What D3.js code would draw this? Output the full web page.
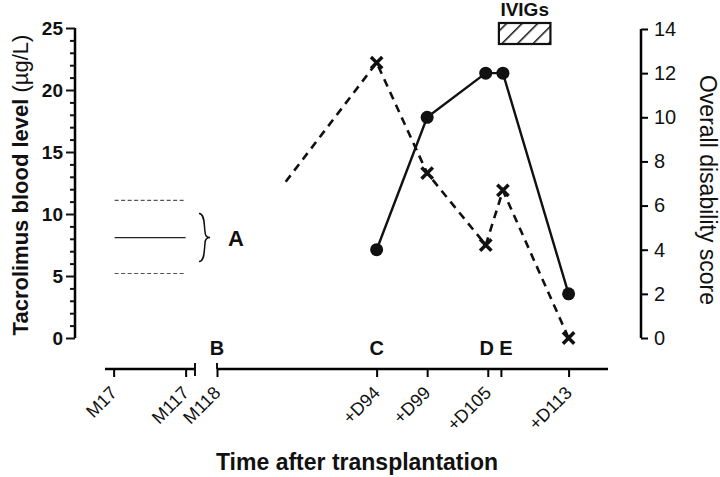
<!DOCTYPE html>
<html>
<head>
<meta charset="utf-8">
<script src="https://cdn.jsdelivr.net/npm/d3@7"></script>
<style>
  body { margin: 0; background: #fff; }
  text { font-family: "Liberation Sans", Arial, sans-serif; fill: #111; }
</style>
</head>
<body>
<svg id="chart" width="720" height="477"></svg>
<script>
// tacrolimus (left axis), days after transplantation
const tacroDays = [85, 94, 99, 104.8, 106.5, 113];
const tacroValues = [12.6, 22.2, 13.3, 7.5, 11.9, 0];
const tacroMarked = [false, true, true, true, true, true];

// disability score (right axis)
const disDays = [94, 99, 104.8, 106.5, 113];
const disValues = [4, 10, 12, 12, 2];

// target range lines before transplantation (months)
const rangeMonths = [17, 117];
const rangeValues = [11.1, 8.1, 5.2];

// ticks
const monthTicks = [17, 117];
const monthLabels = ["M17", "M117"];
const dayTicks = [78.2, 94, 99, 105, 106.3, 113];
const dayLabels = ["M118", "+D94", "+D99", "+D105", "", "+D113"];
const leftTicks = [0, 5, 10, 15, 20, 25];
const rightTicks = [0, 2, 4, 6, 8, 10, 12, 14];

// event letters
const events = [
  { label: "B", day: 78.2 },
  { label: "C", day: 94 },
  { label: "D", day: 104.9 },
  { label: "E", day: 106.8 }
];
const ivigDays = [106.3, 111.4];

const svg = d3.select("#chart");

const yL = d3.scaleLinear().domain([0, 25]).range([338, 28]);
const yR = d3.scaleLinear().domain([0, 14]).range([338, 29]);
const xM = d3.scaleLinear().domain([5, 130]).range([105, 195]);
const xD = d3.scaleLinear().domain([78.2, 116.9]).range([217, 608]);

const axisY = 369;

// left axis, minor tick every unit
const leftAxis = svg.append("g").attr("transform", "translate(75,0)")
  .call(d3.axisLeft(yL).tickValues(d3.range(0, 26, 1)).tickSize(5)
    .tickFormat(d => leftTicks.includes(d) ? d : ""));
leftAxis.selectAll(".tick line")
  .attr("x2", d => leftTicks.includes(d) ? -9 : -5)
  .attr("stroke", "#111");
leftAxis.selectAll(".tick text").attr("x", -12)
  .style("font-size", "19px").style("font-weight", "bold");

// right axis
const rightAxis = svg.append("g").attr("transform", "translate(641,0)")
  .call(d3.axisRight(yR).tickValues(rightTicks).tickSize(7));
rightAxis.selectAll(".tick text").attr("x", 13).style("font-size", "20px");

leftAxis.select(".domain").attr("d", "M0,338V28");
rightAxis.select(".domain").attr("d", "M0,338V29");
[leftAxis, rightAxis].forEach(a => {
  a.select(".domain").attr("stroke-width", 2.5);
  a.selectAll(".tick line").attr("stroke-width", 2);
});

// x axis, two segments with a break
const xAxisM = svg.append("g").attr("transform", `translate(0,${axisY})`)
  .call(d3.axisBottom(xM).tickValues(monthTicks).tickSize(8)
    .tickFormat((d, i) => monthLabels[i]));
const xAxisD = svg.append("g").attr("transform", `translate(0,${axisY})`)
  .call(d3.axisBottom(xD).tickValues(dayTicks).tickSize(8)
    .tickFormat((d, i) => dayLabels[i]));

xAxisM.select(".domain").attr("d", "M105,0H195");
xAxisD.select(".domain").attr("d", "M217,0H608");
[xAxisM, xAxisD].forEach(a => {
  a.select(".domain").attr("stroke-width", 2.5);
  a.selectAll(".tick line").attr("stroke-width", 2);
  a.selectAll(".tick text")
    .attr("y", 0).attr("dy", 0)
    .attr("transform", "translate(4,25) rotate(-45)")
    .attr("text-anchor", "end")
    .style("font-size", "18px");
});
// break caps
svg.append("line").attr("x1", 195).attr("x2", 195).attr("y1", axisY - 6).attr("y2", axisY + 7)
  .attr("stroke", "#111").attr("stroke-width", 2);
svg.append("line").attr("x1", 217).attr("x2", 217).attr("y1", axisY - 6).attr("y2", axisY)
  .attr("stroke", "#111").attr("stroke-width", 2);

// target range lines
rangeValues.forEach((v, i) => {
  svg.append("line")
    .attr("x1", xM(rangeMonths[0]) + 1).attr("x2", xM(rangeMonths[1]))
    .attr("y1", yL(v)).attr("y2", yL(v))
    .attr("stroke", i === 1 ? "#222" : "#555")
    .attr("stroke-width", i === 1 ? 1.3 : 1.2)
    .attr("stroke-dasharray", i === 1 ? null : "4,2.5");
});

// brace
const bx = 199, bm = yL(8.1), bh = 24;
svg.append("path")
  .attr("d", `M${bx},${bm - bh} C${bx + 6},${bm - bh} ${bx + 5},${bm - 12} ${bx + 6},${bm - 6}
    C${bx + 6},${bm - 2} ${bx + 8},${bm} ${bx + 11},${bm}
    C${bx + 8},${bm} ${bx + 6},${bm + 2} ${bx + 6},${bm + 6}
    C${bx + 5},${bm + 12} ${bx + 6},${bm + bh} ${bx},${bm + bh}`)
  .attr("fill", "none").attr("stroke", "#111").attr("stroke-width", 1.5);
svg.append("text").attr("x", 236).attr("y", bm + 8).attr("text-anchor", "middle")
  .style("font-size", "22px").style("font-weight", "bold").text("A");

// tacrolimus dashed line with x markers
const tacro = tacroDays.map((d, i) => ({ x: xD(d), y: yL(tacroValues[i]), m: tacroMarked[i] }));
svg.append("path").datum(tacro)
  .attr("d", d3.line().x(d => d.x).y(d => d.y))
  .attr("fill", "none").attr("stroke", "#111").attr("stroke-width", 2.6)
  .attr("stroke-dasharray", "8,6");
svg.append("g").selectAll("path").data(tacro.filter(d => d.m)).join("path")
  .attr("transform", d => `translate(${d.x},${d.y}) rotate(45)`)
  .attr("d", "M-8,0H8M0,-8V8")
  .attr("fill", "none").attr("stroke", "#111").attr("stroke-width", 3.5);

// disability solid line with circles
const dis = disDays.map((d, i) => ({ x: xD(d), y: yR(disValues[i]) }));
svg.append("path").datum(dis)
  .attr("d", d3.line().x(d => d.x).y(d => d.y))
  .attr("fill", "none").attr("stroke", "#111").attr("stroke-width", 2.4);
svg.append("g").selectAll("circle").data(dis).join("circle")
  .attr("cx", d => d.x).attr("cy", d => d.y).attr("r", 6.5).attr("fill", "#111");

// event letters
svg.append("g").selectAll("text").data(events).join("text")
  .attr("x", d => xD(d.day)).attr("y", 355).attr("text-anchor", "middle")
  .style("font-size", "20px").style("font-weight", "bold").text(d => d.label);

// IVIG box
const defs = svg.append("defs");
const pat = defs.append("pattern").attr("id", "hatch").attr("patternUnits", "userSpaceOnUse")
  .attr("width", 11).attr("height", 11).attr("patternTransform", "rotate(45)");
pat.append("line").attr("x1", 0).attr("y1", 0).attr("x2", 0).attr("y2", 11)
  .attr("stroke", "#111").attr("stroke-width", 3);
svg.append("rect").attr("x", xD(ivigDays[0]) - 2).attr("y", 23)
  .attr("width", xD(ivigDays[1]) - xD(ivigDays[0])).attr("height", 21)
  .attr("fill", "url(#hatch)").attr("stroke", "#111").attr("stroke-width", 2.2);
svg.append("text").attr("x", (xD(ivigDays[0]) + xD(ivigDays[1])) / 2 - 2).attr("y", 16)
  .attr("text-anchor", "middle").style("font-size", "19px").style("font-weight", "bold")
  .text("IVIGs");

// axis titles
svg.append("text").attr("x", 357).attr("y", 470).attr("text-anchor", "middle")
  .style("font-size", "23px").style("font-weight", "bold").text("Time after transplantation");

const yl = svg.append("text").attr("transform", "translate(28,185) rotate(-90)")
  .attr("text-anchor", "middle").style("font-size", "22px");
yl.append("tspan").style("font-weight", "bold").text("Tacrolimus blood level ");
yl.append("tspan").text("(µg/L)");

svg.append("text").attr("transform", "translate(700,190) rotate(90)")
  .attr("text-anchor", "middle").style("font-size", "23px").text("Overall disability score");
</script>
</body>
</html>
